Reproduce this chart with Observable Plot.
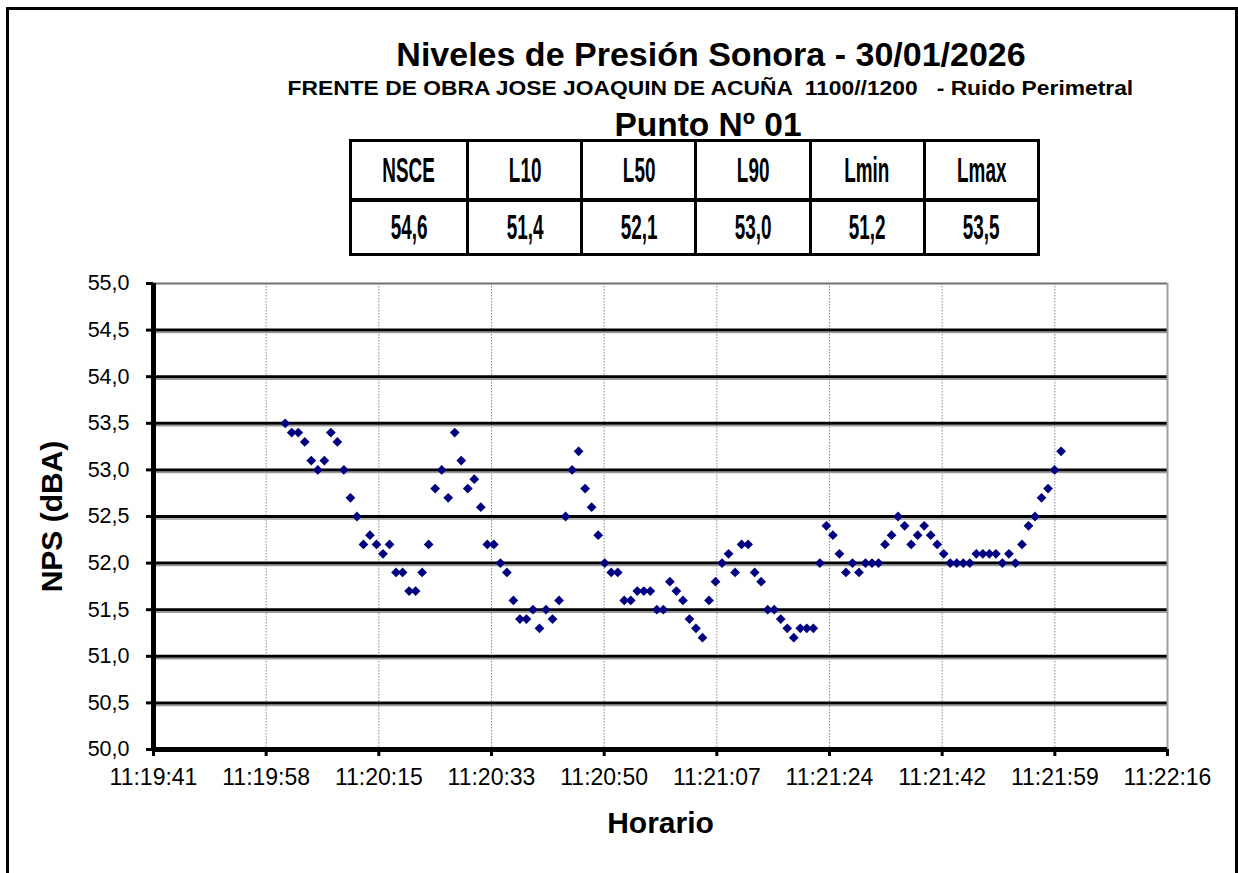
<!DOCTYPE html>
<html><head><meta charset="utf-8">
<script src="https://cdn.jsdelivr.net/npm/d3@7"></script>
<script src="https://cdn.jsdelivr.net/npm/@observablehq/plot@0.6"></script>
<style>
html,body{margin:0;padding:0;background:#fff;width:1238px;height:873px;overflow:hidden;font-family:"Liberation Sans",Arial,sans-serif;color:#000;}
#frame{position:absolute;left:6px;top:7px;width:1226px;height:900px;border:3px solid #000;border-bottom:none;pointer-events:none;}
#header{position:relative;height:260px;}
.t{position:absolute;left:210px;width:1000px;text-align:center;line-height:1;white-space:pre;font-weight:bold;}
.t span{display:inline-block;transform-origin:center;}
#table{position:absolute;left:349px;top:139px;width:691px;height:117px;border:3px solid #000;box-sizing:border-box;display:grid;grid-template-columns:repeat(6,1fr);grid-template-rows:1fr 1fr;}
.cell{display:flex;align-items:center;justify-content:center;font-weight:bold;font-size:35px;box-sizing:border-box;}
.cell span{display:inline-block;transform:scaleX(0.54);}
.cell.l{border-left:3px solid #000;}
.cell.b{border-top:4px solid #000;}
#chart{position:absolute;left:0;top:260px;}
</style></head>
<body>
<div id="header"></div>
<div id="chart"></div>
<div id="frame"></div>
<script>
// ---- data ----
const title = "Niveles de Presión Sonora - 30/01/2026";
const subtitle = "FRENTE DE OBRA JOSE JOAQUIN DE ACUÑA  1100//1200   - Ruido Perimetral";
const pointTitle = "Punto Nº 01";
const statNames = ["NSCE", "L10", "L50", "L90", "Lmin", "Lmax"];
const statValues = ["54,6", "51,4", "52,1", "53,0", "51,2", "53,5"];
const yLabel = "NPS (dBA)";
const xLabel = "Horario";
const startTime = "11:20:01";   // first sample
const sampleStepSeconds = 1;
const values = [
  53.5,53.4,53.4,53.3,53.1,53.0,53.1,53.4,53.3,53.0,52.7,52.5,52.2,52.3,52.2,52.1,52.2,51.9,51.9,51.7,51.7,51.9,52.2,52.8,53.0,
  52.7,53.4,53.1,52.8,52.9,52.6,52.2,52.2,52.0,51.9,51.6,51.4,51.4,51.5,51.3,51.5,51.4,51.6,52.5,53.0,53.2,52.8,52.6,52.3,
  52.0,51.9,51.9,51.6,51.6,51.7,51.7,51.7,51.5,51.5,51.8,51.7,51.6,51.4,51.3,51.2,51.6,51.8,52.0,52.1,51.9,52.2,52.2,51.9,51.8,
  51.5,51.5,51.4,51.3,51.2,51.3,51.3,51.3,52.0,52.4,52.3,52.1,51.9,52.0,51.9,52.0,52.0,52.0,52.2,52.3,52.5,52.4,52.2,52.3,
  52.4,52.3,52.2,52.1,52.0,52.0,52.0,52.0,52.1,52.1,52.1,52.1,52.0,52.1,52.0,52.2,52.4,52.5,52.7,52.8,53.0,53.2
];
const xTickLabels = ["11:19:41","11:19:58","11:20:15","11:20:33","11:20:50","11:21:07","11:21:24","11:21:42","11:21:59","11:22:16"];
const xAxisMinDays = 0.4720, xMajorUnitDays = 0.0002;
const yTicks = [50, 50.5, 51, 51.5, 52, 52.5, 53, 53.5, 54, 54.5, 55];
const yTickLabels = ["50,0","50,5","51,0","51,5","52,0","52,5","53,0","53,5","54,0","54,5","55,0"];

// ---- header ----
const header = document.getElementById("header");
function addText(txt, top, size, left, sx) {
  const d = document.createElement("div");
  d.className = "t";
  const sp = document.createElement("span");
  sp.textContent = txt;
  if (sx) sp.style.transform = "scaleX(" + sx + ")";
  d.appendChild(sp);
  d.style.top = top + "px"; d.style.fontSize = size + "px";
  if (left != null) d.style.left = left + "px";
  header.appendChild(d);
}
addText(title, 37, 34, 211);
addText(subtitle, 79, 19.5, 210, 1.17);
addText(pointTitle, 108, 33.5, 208);
const table = document.createElement("div");
table.id = "table";
[statNames, statValues].forEach((row, r) => row.forEach((s, c) => {
  const cell = document.createElement("div");
  cell.className = "cell" + (c > 0 ? " l" : "") + (r > 0 ? " b" : "");
  const sp = document.createElement("span"); sp.textContent = s;
  cell.appendChild(sp); table.appendChild(cell);
}));
header.appendChild(table);

// ---- chart ----
const [hh, mm, ss] = startTime.split(":").map(Number);
const t0 = hh * 3600 + mm * 60 + ss;
const data = values.map((v, i) => ({x: (t0 + i * sampleStepSeconds) / 86400, y: v}));
const xTicks = xTickLabels.map((_, i) => xAxisMinDays + i * xMajorUnitDays);
const xMin = xTicks[0], xMax = xTicks[xTicks.length - 1];
const yMin = yTicks[0], yMax = yTicks[yTicks.length - 1];
const fx = d => xTickLabels[xTicks.indexOf(d)];
const fy = d => yTickLabels[yTicks.indexOf(d)];

const chart = Plot.plot({
  width: 1238, height: 613,
  marginLeft: 153, marginRight: 71, marginTop: 23, marginBottom: 124,
  style: {fontFamily: '"Liberation Sans", Arial, sans-serif', fontSize: "21px", color: "#000", background: "transparent", overflow: "visible"},
  x: {domain: [xMin, xMax]},
  y: {domain: [yMin, yMax]},
  marks: [
    Plot.ruleX(xTicks.slice(1, -1), {stroke: "#8a8a8a", strokeWidth: 1, strokeDasharray: "1.5,1.5"}),
    Plot.ruleY(yTicks.slice(1, -1), {stroke: "#9a9a9a", strokeWidth: 1.5, dy: 2.5}),
    Plot.ruleY(yTicks.slice(1, -1), {stroke: "#000", strokeWidth: 3}),
    Plot.ruleY([yMax], {stroke: "#707070", strokeWidth: 2}),
    Plot.ruleX([xMax], {stroke: "#a0a0a0", strokeWidth: 2}),
    Plot.dot(data, {x: "x", y: "y", symbol: "diamond2", r: 4.4, fill: "#000080", stroke: "none"}),
    Plot.axisY({ticks: yTicks, tickFormat: fy, tickSize: 7, tickPadding: 17, strokeWidth: 3, label: null, fontSize: 21.5}),
    Plot.axisX({ticks: xTicks, tickFormat: fx, tickSize: 7, tickPadding: 12, strokeWidth: 3, label: null, fontSize: 23}),
    Plot.ruleX([xMin], {stroke: "#000", strokeWidth: 5}),
    Plot.ruleY([yMin], {stroke: "#000", strokeWidth: 5}),
    Plot.text([yLabel], {text: d => d, frameAnchor: "left", textAnchor: "middle", lineAnchor: "middle", dx: -101, rotate: -90, fontWeight: "bold", fontSize: 30}),
    Plot.text([xLabel], {text: d => d, frameAnchor: "bottom", textAnchor: "middle", lineAnchor: "middle", dy: 74, fontWeight: "bold", fontSize: 30})
  ]
});
document.getElementById("chart").appendChild(chart);
</script>
</body></html>
